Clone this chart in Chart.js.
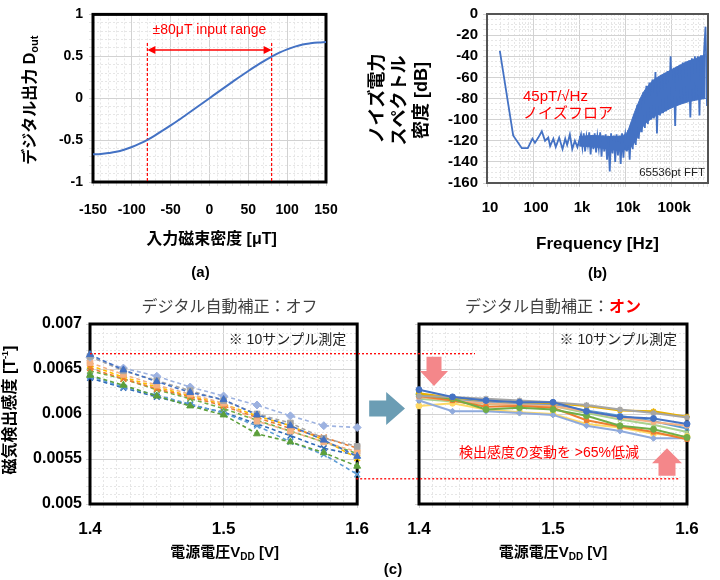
<!DOCTYPE html>
<html><head><meta charset="utf-8">
<script src="https://cdn.jsdelivr.net/npm/chart.js@4.4.1/dist/chart.umd.min.js"></script>
<style>
html,body{margin:0;padding:0;background:#fff;}
#wrap{position:relative;width:720px;height:580px;overflow:hidden;background:#fff;}
canvas{position:absolute;}
</style></head><body>
<div id="wrap">
<canvas id="ca" width="360" height="290" style="left:0;top:0"></canvas>
<canvas id="cb" width="360" height="290" style="left:360px;top:0"></canvas>
<canvas id="ccl" width="380" height="290" style="left:0;top:290px"></canvas>
<canvas id="ccr" width="340" height="290" style="left:380px;top:290px"></canvas>
<canvas id="ov" width="720" height="580" style="left:0;top:0;pointer-events:none"></canvas>
</div>
<script>
// ---------- (a) data ----------
const fieldUT = [-150,-140,-130,-120,-110,-100,-90,-80,-70,-60,-50,-40,-30,-20,-10,0,10,20,30,40,50,60,70,80,90,100,110,120,130,140,150];
const doutA = [-0.670,-0.665,-0.655,-0.640,-0.615,-0.582,-0.543,-0.497,-0.443,-0.385,-0.325,-0.262,-0.197,-0.132,-0.066,0,0.066,0.132,0.197,0.262,0.325,0.385,0.443,0.497,0.543,0.582,0.615,0.640,0.655,0.665,0.670];
const rangeUT = 80;
const rangeLabel = '±80μT input range';

// ---------- (b) data ----------
const freqB = [19,37,57,77,97,110,130,155,182,214,235,276,311,369,437,500,550,630,710,810,920,1050,
 1100,1180,1260,1350,1450,1550,1660,1780,1900,2040,2180,2340,2500,2680,2870,3070,3290,3520,3770,4040,4320,4630,4950,5300,5680,6080,6510,6970,7470,8000,8560,9170,9820,
 10000,10800,11650,12550,13550,14600,15750,17000,18350,19800,21350,23000,24800,26800,28900,31200,33600,36300,39100,42200,45500,49100,53000,57200,61700,66500,71800,77400,83500,90100,97200,104900,113100,122000,131700,142000,153200,165300,178300,192400,207500,223900,241500,260600,281100,303300,327200,353000,380800,410800,443200,478200,515900,556600,600000];
const psdB = [-35,-115,-127,-127,-118,-122,-117,-111,-120,-117,-125,-118,-126,-117,-128,-118,-124,-114,-128,-120,-126,-117,
 -114,-126,-113,-130,-116,-124,-112,-133,-115,-128,-113,-131,-116,-127,-112,-135,-115,-130,-114,-138,-116,-149,-113,-132,-115,-140,-114,-134,-116,-142,-113,-136,-116,
 -114,-130,-110,-138,-104,-128,-96,-124,-86,-118,-80,-112,-74,-108,-68,-104,-65,-100,-62,-99,-55,-113,-60,-96,-58,-94,-56,-92,-54,-90,-40,-88,-51,-106,-50,-86,-48,-85,-46,-84,-45,-82,-44,-98,-42,-81,-40,-80,-40,-96,-39,-80,-37,-12,-87];
// dense-noise band edges
const bandFreqB = [1000,2000,5000,9000,11000,13000,17000,25000,40000,60000,100000,200000,400000,560000];
const bandHiB = [-116,-115,-116,-115,-112,-104,-90,-74,-63,-58,-53,-46,-41,-38];
const bandLoB = [-125,-126,-128,-128,-129,-127,-120,-106,-98,-94,-89,-84,-81,-80];
const majorFreqsB = [10,100,1000,10000,100000];
const freqLabelsB = ['10','100','1k','10k','100k'];

// ---------- (c) data ----------
const vddC = [1.4,1.425,1.45,1.475,1.5,1.525,1.55,1.575,1.6];
const off1 = [0.00666,0.00649,0.00636,0.00624,0.00616,0.00599,0.00587,0.00571,0.00553];
const off2 = [0.00664,0.00648,0.00637,0.00626,0.00615,0.00600,0.00590,0.00573,0.00564];
const off3 = [0.00663,0.00651,0.00642,0.00630,0.00620,0.00610,0.00598,0.00587,0.00585];
const off4 = [0.00657,0.00644,0.00632,0.00622,0.00612,0.00592,0.00581,0.00569,0.00558];
const off5 = [0.00651,0.00639,0.00628,0.00619,0.00609,0.00596,0.00584,0.00574,0.00562];
const off6 = [0.00654,0.00641,0.00630,0.00620,0.00611,0.00598,0.00587,0.00571,0.00551];
const off7 = [0.00648,0.00639,0.00627,0.00617,0.00606,0.00593,0.00581,0.00569,0.00556];
const off8 = [0.00643,0.00632,0.00620,0.00609,0.00599,0.00578,0.00569,0.00557,0.00542];
const off9 = [0.00642,0.00630,0.00621,0.00611,0.00601,0.00587,0.00569,0.00555,0.00533];
const off10 = [0.00640,0.00629,0.00619,0.00610,0.00602,0.00589,0.00576,0.00562,0.00554];
const on1 = [0.00627,0.00619,0.00615,0.00613,0.00613,0.00603,0.00597,0.00595,0.00589];
const on2 = [0.00620,0.00619,0.00617,0.00615,0.00613,0.00610,0.00605,0.00601,0.00596];
const on3 = [0.00623,0.00618,0.00615,0.00613,0.00612,0.00609,0.00604,0.00603,0.00597];
const on4 = [0.00622,0.00617,0.00605,0.00607,0.00605,0.00598,0.00587,0.00583,0.00574];
const on5 = [0.00620,0.00615,0.00608,0.00609,0.00607,0.00593,0.00586,0.00580,0.00572];
const on6 = [0.00619,0.00615,0.00612,0.00610,0.00609,0.00603,0.00596,0.00591,0.00587];
const on7 = [0.00615,0.00603,0.00603,0.00601,0.00599,0.00587,0.00581,0.00573,0.00573];
const on8 = [0.00609,0.00612,0.00605,0.00602,0.00600,0.00589,0.00585,0.00578,0.00575];
const on9 = [0.00621,0.00616,0.00613,0.00611,0.00610,0.00604,0.00598,0.00592,0.00584];
const on10 = [0.00617,0.00614,0.00611,0.00610,0.00609,0.00601,0.00594,0.00588,0.00580];
const refHi = 0.00667, refLo = 0.00528;

// ---------- helpers ----------
const FF = "'Liberation Sans', Arial, 'Noto Sans CJK JP', sans-serif";
Chart.defaults.font.family = FF;
Chart.defaults.color = '#000';
const RED = '#FF0000';
function f(w, s){ return w + ' ' + s + 'px ' + FF; }
function richW(ctx, parts){ let w=0; for(const p of parts){ ctx.font=p.font; w+=ctx.measureText(p.t).width; } return w; }
function rich(ctx, parts, x, y, color, align){
  align = align || 'center';
  const w = richW(ctx, parts);
  let cx = align==='center' ? x - w/2 : (align==='right' ? x - w : x);
  ctx.textAlign='left'; ctx.textBaseline='middle';
  for(const p of parts){ ctx.font=p.font; ctx.fillStyle=p.color||color; ctx.fillText(p.t, cx, y+(p.dy||0)); cx+=ctx.measureText(p.t).width; }
}
function richRot(ctx, parts, x, y, color){ ctx.save(); ctx.translate(x,y); ctx.rotate(-Math.PI/2); rich(ctx, parts, 0, 0, color); ctx.restore(); }
const fixW = w => s => { s.width = w; };
const fixH = h => s => { s.height = h; };
function gridOf(isMaj){ return { color: c => (c.tick && isMaj(c.tick.value)) ? '#D2D2D2' : '#E6E6E6', lineWidth:1, tickLength:4, drawTicks:true }; }
function borderOf(isMaj){ return { display:false, dash: c => (c.tick && isMaj(c.tick.value)) ? [] : [2,2] }; }
function frame(color, width){ return { id:'frame', beforeDatasetsDraw(chart){ const {ctx, chartArea:a}=chart; ctx.save(); ctx.strokeStyle=color; ctx.lineWidth=width; ctx.strokeRect(a.left, a.top, a.right-a.left, a.bottom-a.top); ctx.restore(); } }; }
const tickFont = (s) => ({size:s, weight:'bold', family:FF});
const baseOpts = { responsive:false, animation:false, devicePixelRatio:1, plugins:{legend:{display:false}, tooltip:{enabled:false}} };

// ---------- (a) ----------
const majAx = v => Math.abs(v % 50) < 1e-9;
const majAy = v => Math.abs(v*2 - Math.round(v*2)) < 1e-9;
const chartA = new Chart(document.getElementById('ca'), {
  type:'line',
  data:{ datasets:[{ data: fieldUT.map((b,i)=>({x:b, y:doutA[i]})), borderColor:'#4472C4', borderWidth:2, pointRadius:0, tension:0.4, fill:false }]},
  options:Object.assign({}, baseOpts, {
    layout:{padding:{top:10,right:34,left:0,bottom:0}},
    scales:{
      x:{type:'linear', min:-150, max:150, afterFit:fixH(108),
        ticks:{stepSize:10, autoSkip:false, maxRotation:0, padding:16, font:tickFont(14), color:'#000', callback:v => majAx(v) ? String(v) : ''},
        grid:gridOf(majAx), border:borderOf(majAx)},
      y:{type:'linear', min:-1, max:1, afterFit:fixW(93),
        ticks:{stepSize:0.1, autoSkip:false, padding:6, font:tickFont(14), color:'#000', callback:v => majAy(v) ? String(Math.round(v*2)/2) : ''},
        grid:gridOf(majAy), border:borderOf(majAy)}
    }
  }),
  plugins:[frame('#000',3), {
    id:'decoA',
    beforeDatasetsDraw(chart){
      const {ctx, chartArea:a, scales:{x,y}} = chart;
      ctx.save(); ctx.strokeStyle=RED; ctx.lineWidth=1.2; ctx.setLineDash([3,2]);
      for(const v of [-rangeUT, rangeUT]){ const px=x.getPixelForValue(v); ctx.beginPath(); ctx.moveTo(px, y.getPixelForValue(0.66)); ctx.lineTo(px, a.bottom); ctx.stroke(); }
      ctx.restore();
    },
    afterDraw(chart){
      const {ctx, chartArea:a, scales:{x,y}} = chart;
      ctx.save();
      const ay = y.getPixelForValue(0.575), x1 = x.getPixelForValue(-rangeUT), x2 = x.getPixelForValue(rangeUT);
      ctx.strokeStyle=RED; ctx.fillStyle=RED; ctx.lineWidth=1.6;
      ctx.beginPath(); ctx.moveTo(x1+6, ay); ctx.lineTo(x2-6, ay); ctx.stroke();
      ctx.beginPath(); ctx.moveTo(x1, ay); ctx.lineTo(x1+8, ay-4); ctx.lineTo(x1+8, ay+4); ctx.closePath(); ctx.fill();
      ctx.beginPath(); ctx.moveTo(x2, ay); ctx.lineTo(x2-8, ay-4); ctx.lineTo(x2-8, ay+4); ctx.closePath(); ctx.fill();
      rich(ctx, [{t:rangeLabel, font:f('normal',14)}], x.getPixelForValue(0), y.getPixelForValue(0.81), RED);
      const cx = (a.left+a.right)/2;
      rich(ctx, [{t:'入力磁束密度 [μT]', font:f('bold',16)}], cx+2, a.bottom+58, '#000');
      rich(ctx, [{t:'(a)', font:f('bold',15)}], cx-9, a.bottom+91, '#000');
      richRot(ctx, [{t:'デジタル出力 D', font:f('bold',16)}, {t:'out', font:f('bold',11), dy:4}], a.left-62, (a.top+a.bottom)/2+2, '#000');
      ctx.restore();
    }
  }]
});

// ---------- (b) ----------
const gridFreqs = [];
for (let d=1; d<=5; d++) for (let m=1; m<=9; m++){ const v = m*Math.pow(10,d); if (v <= 630000) gridFreqs.push(v); }
const majBx = v => majorFreqsB.indexOf(v) >= 0;
const majBy = v => Math.abs(v % 20) < 1e-9;
const BLUE = '#4472C4';
const chartB = new Chart(document.getElementById('cb'), {
  type:'line',
  data:{ datasets:[
    { data: freqB.map((q,i)=>({x:q, y:psdB[i]})), borderColor:BLUE, borderWidth:1.8, pointRadius:0, tension:0, fill:false },
    { data: bandFreqB.map((q,i)=>({x:q, y:bandHiB[i]})), borderColor:BLUE, borderWidth:1, backgroundColor:BLUE, pointRadius:0, tension:0.3, fill:'+1' },
    { data: bandFreqB.map((q,i)=>({x:q, y:bandLoB[i]})), borderColor:BLUE, borderWidth:1, pointRadius:0, tension:0.3, fill:false }
  ]},
  options:Object.assign({}, baseOpts, {
    layout:{padding:{top:11,right:12,left:0,bottom:0}},
    scales:{
      x:{type:'logarithmic', min:10, max:630000, afterFit:fixH(107),
        afterBuildTicks: s => { s.ticks = gridFreqs.map(v => ({value:v})); },
        ticks:{autoSkip:false, maxRotation:0, padding:12, font:tickFont(15), color:'#000', labelOffset:3, callback:v => { const i = majorFreqsB.indexOf(v); return i>=0 ? freqLabelsB[i] : ''; }},
        grid:gridOf(majBx), border:borderOf(majBx)},
      y:{type:'linear', min:-160, max:0, afterFit:fixW(127),
        ticks:{stepSize:5, autoSkip:false, padding:5, font:tickFont(15), color:'#000', callback:v => majBy(v) ? String(v) : ''},
        grid:gridOf(majBy), border:borderOf(majBy)}
    }
  }),
  plugins:[{ id:'frameB', afterDatasetsDraw(chart){ const {ctx, chartArea:a}=chart; ctx.save(); ctx.strokeStyle='#555'; ctx.lineWidth=2; ctx.strokeRect(a.left, a.top, a.right-a.left, a.bottom-a.top); ctx.restore(); } }, {
    id:'decoB',
    afterDraw(chart){
      const {ctx, chartArea:a} = chart;
      ctx.save();
      rich(ctx, [{t:'45pT/√Hz', font:f('normal',15)}], a.left+36, 97, RED, 'left');
      rich(ctx, [{t:'ノイズフロア', font:f('normal',15)}], a.left+36, 114, RED, 'left');
      rich(ctx, [{t:'65536pt FFT', font:f('normal',11.5)}], a.right-3, a.bottom-10, '#222', 'right');
      const cx = (a.left+a.right)/2;
      rich(ctx, [{t:'Frequency [Hz]', font:f('bold',17)}], cx, a.bottom+61, '#000');
      rich(ctx, [{t:'(b)', font:f('bold',15)}], cx, a.bottom+91, '#000');
      const cy = (a.top+a.bottom)/2;
      richRot(ctx, [{t:'ノイズ電力', font:f('bold',18)}], a.left-109, cy, '#000');
      richRot(ctx, [{t:'スペクトル', font:f('bold',18)}], a.left-87, cy+2, '#000');
      richRot(ctx, [{t:'密度 [dB]', font:f('bold',18)}], a.left-65, cy+2, '#000');
      ctx.restore();
    }
  }]
});

// ---------- (c) ----------
const majCx = v => Math.abs(v*10 - Math.round(v*10)) < 1e-6;
const majCy = v => Math.abs(v/0.0005 - Math.round(v/0.0005)) < 1e-6;
const xTitleC = [{t:'電源電圧V', font:f('bold',15)}, {t:'DD', font:f('bold',10), dy:4}, {t:' [V]', font:f('bold',15)}];
function cScales(showY){
  return {
    x:{type:'linear', min:1.4, max:1.6, afterFit:fixH(76),
      ticks:{stepSize:0.01, autoSkip:false, maxRotation:0, padding:11, font:tickFont(17), color:'#000', callback:v => majCx(v) ? v.toFixed(1) : ''},
      grid:gridOf(majCx), border:borderOf(majCx)},
    y:{type:'linear', min:0.005, max:0.007, afterFit:fixW(showY ? 90 : 39),
      ticks:{display:showY, stepSize:0.0001, autoSkip:false, padding:4, font:tickFont(16), color:'#000', callback:v => majCy(v) ? String(parseFloat(v.toFixed(4))) : ''},
      grid:gridOf(majCy), border:borderOf(majCy)}
  };
}
function ds(vals, color, style, dashed){
  return { data: vddC.map((v,i)=>({x:v, y:vals[i]})), borderColor:color, backgroundColor:color, borderWidth: dashed ? 1.6 : 2,
    borderDash: dashed ? [4,3] : [], pointStyle:style, pointRadius: dashed ? 4 : 3, pointBackgroundColor:color, pointBorderColor:color,
    pointBorderWidth: (style==='crossRot'||style==='star') ? 1.5 : 1, fill:false, tension:0, clip:false };
}
const offSets = [
  ds(off1,'#4472C4','triangle',true), ds(off2,'#A5A5A5','rect',true), ds(off3,'#9DB2E0','rectRot',true),
  ds(off4,'#F4B183','rect',true), ds(off5,'#ED7D31','crossRot',true), ds(off6,'#FFC000','crossRot',true),
  ds(off7,'#70AD47','crossRot',true), ds(off8,'#5B9F3A','triangle',true), ds(off9,'#5B9BD5','crossRot',true),
  ds(off10,'#2F6AB8','crossRot',true)];
const onSets = [
  ds(on1,'#4472C4','circle',false), ds(on2,'#A5A5A5','star',false), ds(on3,'#E8B000','star',false),
  ds(on4,'#70AD47','circle',false), ds(on5,'#ED7D31','rect',false), ds(on6,'#F4B183','rect',false),
  ds(on7,'#8FAADC','rectRot',false), ds(on8,'#FFD966','circle',false), ds(on9,'#5B9BD5','crossRot',false),
  ds(on10,'#A9D18E','crossRot',false)];

const chartCL = new Chart(document.getElementById('ccl'), {
  type:'line', data:{datasets:offSets},
  options:Object.assign({}, baseOpts, { layout:{padding:{top:34,right:22,left:0,bottom:0}}, scales:cScales(true) }),
  plugins:[frame('#000',3), { id:'decoCL', afterDraw(chart){
    const {ctx, chartArea:a} = chart; const cx=(a.left+a.right)/2;
    ctx.save();
    rich(ctx, [{t:'デジタル自動補正：オフ', font:f('normal',16)}], cx+6, a.top-16, '#404040');
    rich(ctx, [{t:'※ 10サンプル測定', font:f('normal',14)}], a.right-11, a.top+16, '#222', 'right');
    rich(ctx, xTitleC, cx+1, a.bottom+49, '#000');
    richRot(ctx, [{t:'磁気検出感度 [T', font:f('bold',16)}, {t:'-1', font:f('bold',9), dy:-5}, {t:']', font:f('bold',16)}], a.left-79, (a.top+a.bottom)/2-4, '#000');
    ctx.restore();
  }}]
});
const chartCR = new Chart(document.getElementById('ccr'), {
  type:'line', data:{datasets:onSets},
  options:Object.assign({}, baseOpts, { layout:{padding:{top:34,right:33,left:0,bottom:0}}, scales:cScales(false) }),
  plugins:[frame('#000',3), { id:'decoCR', afterDraw(chart){
    const {ctx, chartArea:a} = chart; const cx=(a.left+a.right)/2;
    ctx.save();
    rich(ctx, [{t:'デジタル自動補正：', font:f('normal',16), color:'#404040'}, {t:'オン', font:f('bold',16), color:RED}], cx, a.top-16, '#404040');
    rich(ctx, [{t:'※ 10サンプル測定', font:f('normal',14)}], a.right-10, a.top+16, '#222', 'right');
    rich(ctx, [{t:'検出感度の変動を >65%低減', font:f('normal',14)}], cx-4, a.bottom-51, RED);
    rich(ctx, xTitleC, cx, a.bottom+49, '#000');
    rich(ctx, [{t:'(c)', font:f('bold',15)}], a.left-26, a.bottom+66, '#000');
    ctx.restore();
  }}]
});

// ---------- overlay: cross-panel markings ----------
(function(){
  const ctx = document.getElementById('ov').getContext('2d');
  const la = chartCL.chartArea, ra = chartCR.chartArea, ys = chartCL.scales.y;
  const L0x = 0, C0y = 290, R0x = 380;
  const yHi = ys.getPixelForValue(refHi) + C0y, yLo = ys.getPixelForValue(refLo) + C0y;
  ctx.save();
  ctx.strokeStyle = RED; ctx.lineWidth = 1.3; ctx.setLineDash([2,2]);
  ctx.beginPath(); ctx.moveTo(la.left + L0x, yHi); ctx.lineTo(R0x + ra.left + 56, yHi); ctx.stroke();
  ctx.beginPath(); ctx.moveTo(la.right + L0x - 1, yLo); ctx.lineTo(R0x + ra.right - 7, yLo); ctx.stroke();
  ctx.setLineDash([]);
  const ym = ys.getPixelForValue(0.00606) + C0y;
  const xs = la.right + L0x + 12, xe = R0x + ra.left - 14;
  ctx.fillStyle = '#6B9DB4';
  ctx.beginPath();
  ctx.moveTo(xs, ym-8); ctx.lineTo(xs+17, ym-8); ctx.lineTo(xs+17, ym-16.5); ctx.lineTo(xe, ym);
  ctx.lineTo(xs+17, ym+16.5); ctx.lineTo(xs+17, ym+8); ctx.lineTo(xs, ym+8); ctx.closePath(); ctx.fill();
  ctx.fillStyle = '#F4878A';
  const dx = R0x + ra.left + 15, dTip = ys.getPixelForValue(0.00631) + C0y, dTop = yHi + 3;
  ctx.beginPath();
  ctx.moveTo(dx-7.5, dTop); ctx.lineTo(dx+7.5, dTop); ctx.lineTo(dx+7.5, dTip-15); ctx.lineTo(dx+14, dTip-15);
  ctx.lineTo(dx, dTip); ctx.lineTo(dx-14, dTip-15); ctx.lineTo(dx-7.5, dTip-15); ctx.closePath(); ctx.fill();
  const ux = R0x + ra.right - 20, uTip = ys.getPixelForValue(0.00562) + C0y, uBase = yLo - 3;
  ctx.beginPath();
  ctx.moveTo(ux-8.5, uBase); ctx.lineTo(ux+8.5, uBase); ctx.lineTo(ux+8.5, uTip+15); ctx.lineTo(ux+15, uTip+15);
  ctx.lineTo(ux, uTip); ctx.lineTo(ux-15, uTip+15); ctx.lineTo(ux-8.5, uTip+15); ctx.closePath(); ctx.fill();
  ctx.restore();
})();
</script>
</body></html>
